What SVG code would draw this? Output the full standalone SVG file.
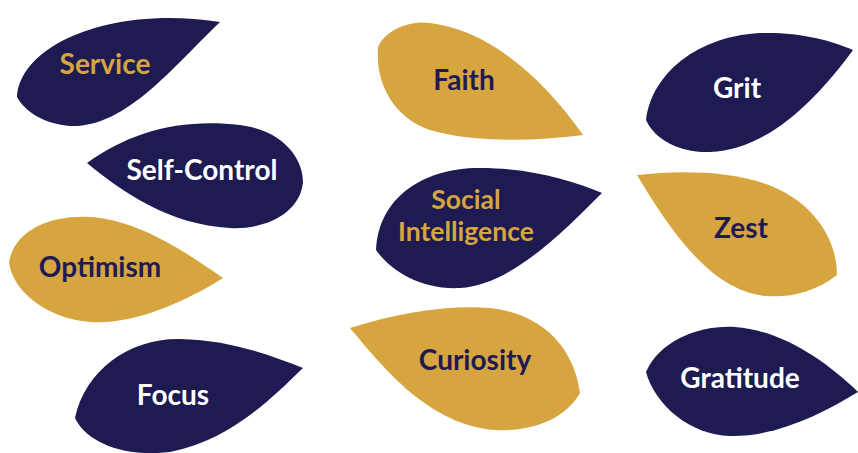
<svg xmlns="http://www.w3.org/2000/svg" width="858" height="453" viewBox="0 0 858 453">
<style>
.navy{fill:#1e1a52}
.gold{fill:#d6a53f}
text{font-family:Lato,"Open Sans","Liberation Sans",sans-serif;font-weight:700;font-size:28px;text-anchor:middle}
.tw{fill:#ffffff}
.tg{fill:#d6a53f}
.tn{fill:#1e1a52}
.sm{font-size:26.5px}
</style>
<rect width="858" height="453" fill="#ffffff"/>
<g id="service"><path class="navy" d="M17,97 C20,45 110,5 220,22 C170,70 125,128 70,126 C45,124 25,112 17,97 Z"/><text class="tg" x="105" y="74">Service</text></g>
<g id="self-control"><path class="navy" d="M87,163 C130,132 180,118 240,125 C285,131 303,160 303,182 C300,215 262,230 230,228 C170,225 122,192 87,163 Z"/><text class="tw" x="202" y="180">Self-Control</text></g>
<g id="optimism"><path class="gold" d="M9,262 C15,230 50,215 90,217 C140,220 190,255 223,278 C180,305 130,325 90,322 C45,318 12,290 9,262 Z"/><text class="tn" x="100" y="277">Optimism</text></g>
<g id="focus"><path class="navy" d="M75,418 C85,370 130,338 180,339 C230,340 270,355 303,368 C270,400 230,440 170,452 C120,458 85,440 75,418 Z"/><text class="tw" x="173" y="405">Focus</text></g>
<g id="faith"><path class="gold" d="M378,47 C385,30 410,20 430,23 C490,30 545,80 583,135 C530,142 470,142 430,130 C395,118 375,85 378,47 Z"/><text class="tn" x="464" y="90">Faith</text></g>
<g id="social-intelligence"><path class="navy" d="M376,250 C378,200 420,168 480,168 C530,168 570,180 602,193 C560,235 510,285 460,288 C420,290 390,270 376,250 Z"/><text class="tg sm" x="466" y="209">Social</text><text class="tg sm" x="466" y="241">Intelligence</text></g>
<g id="curiosity"><path class="gold" d="M350,328 C400,312 450,305 490,308 C550,315 575,355 580,393 C565,420 530,432 495,430 C430,425 385,370 350,328 Z"/><text class="tn" x="475" y="370">Curiosity</text></g>
<g id="grit"><path class="navy" d="M646,120 C650,80 690,37 760,33 C800,32 830,40 853,50 C820,95 770,150 710,152 C680,153 655,140 646,120 Z"/><text class="tw" x="737" y="98">Grit</text></g>
<g id="zest"><path class="gold" d="M637,175 C680,170 740,170 780,190 C820,210 837,245 837,275 C815,292 790,298 765,296 C710,290 670,230 637,175 Z"/><text class="tn" x="741" y="238">Zest</text></g>
<g id="gratitude"><path class="navy" d="M646,372 C660,340 700,325 735,327 C780,330 825,360 858,392 C820,415 775,437 730,436 C690,435 655,405 646,372 Z"/><text class="tw" x="740" y="388">Gratitude</text></g>
<g id="connectors"/>
</svg>
